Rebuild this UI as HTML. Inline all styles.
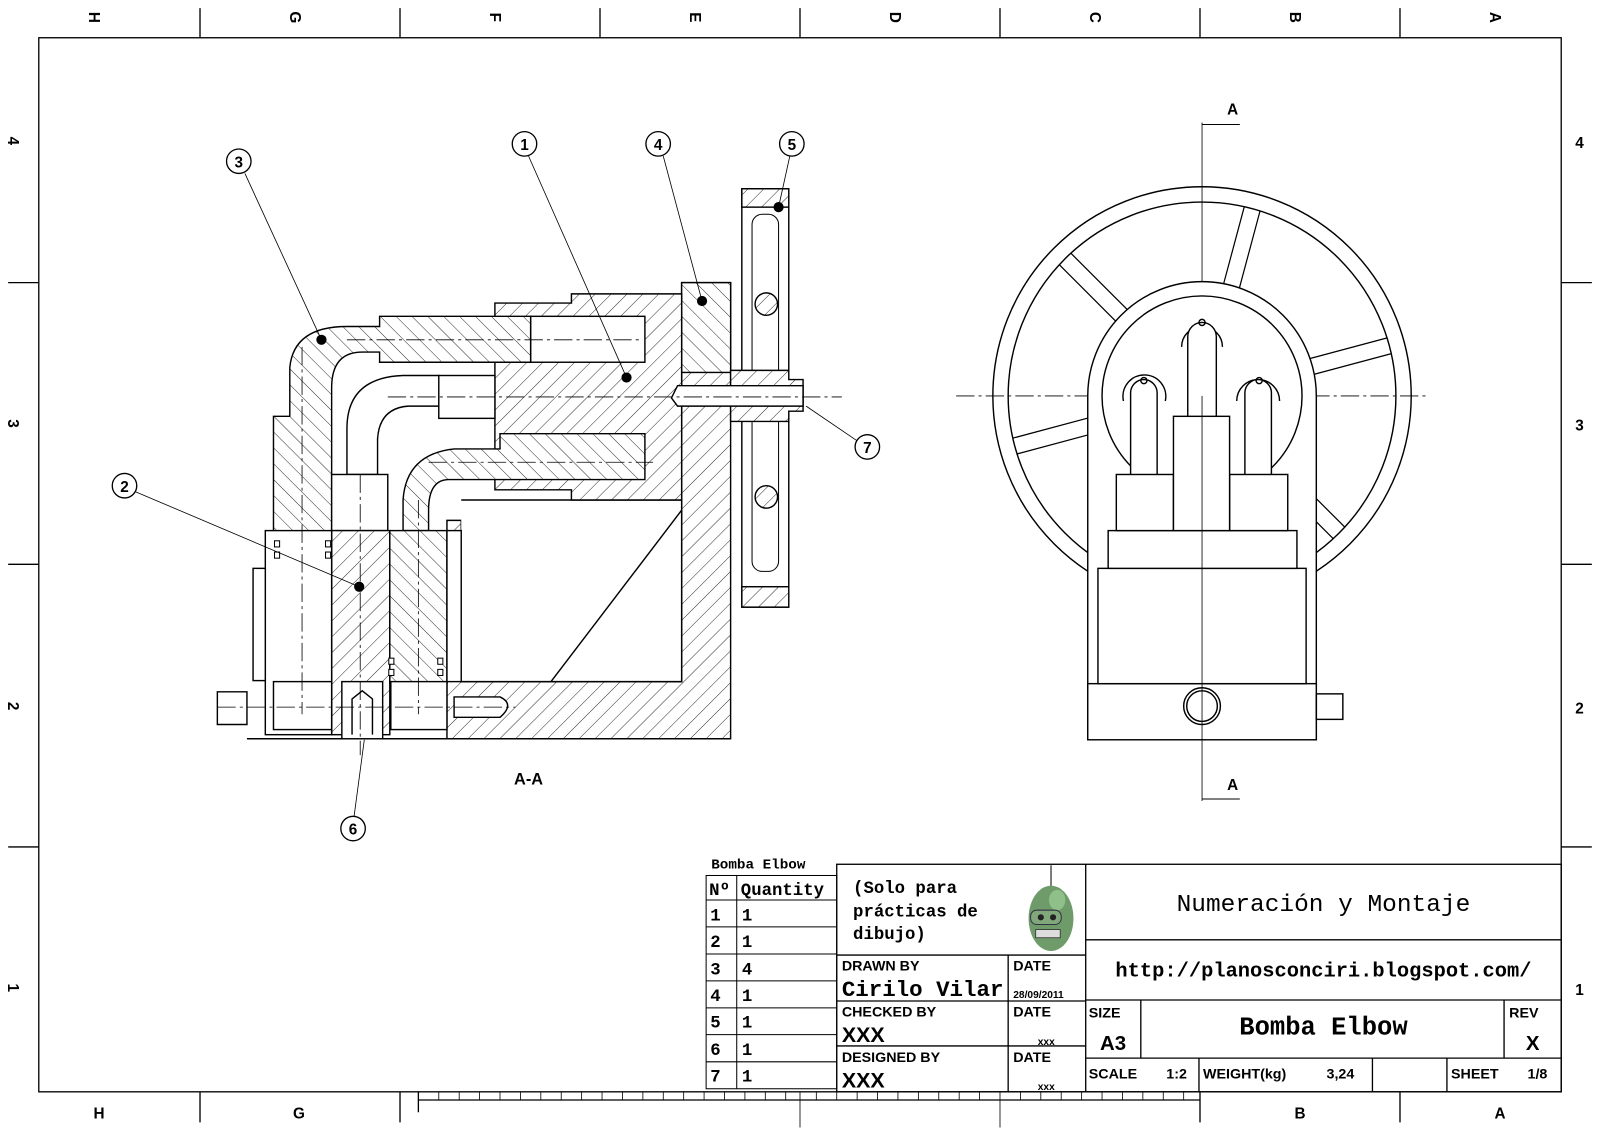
<!DOCTYPE html>
<html><head><meta charset="utf-8"><style>
html,body{margin:0;padding:0;background:#fff}
svg{display:block}
text{font-family:"Liberation Sans",sans-serif;fill:#000}
text.m,.m text{font-family:"Liberation Mono",monospace}
</style></head><body>
<svg width="1600" height="1131" viewBox="0 0 1568 1108.4" xmlns="http://www.w3.org/2000/svg">
<defs>
<pattern id="h" width="11" height="11" patternUnits="userSpaceOnUse" patternTransform="rotate(45)"><rect width="11" height="11" fill="#fff"/><line x1="0" y1="0" x2="0" y2="11" stroke="#000" stroke-width="0.8"/></pattern>
<pattern id="h2" width="11" height="11" patternUnits="userSpaceOnUse" patternTransform="rotate(-45)"><rect width="11" height="11" fill="#fff"/><line x1="0" y1="0" x2="0" y2="11" stroke="#000" stroke-width="0.8"/></pattern>
</defs>
<rect width="1568" height="1109" fill="#fff"/>
<g fill="none" stroke="#000" stroke-width="1.3">
<rect x="38" y="37" width="1492" height="1033"/>
<path d="M196,8V37M392,8V37M588,8V37M784,8V37M980,8V37M1176,8V37M1372,8V37"/>
<path d="M196,1070V1100M392,1070V1100M1176,1070V1100M1372,1070V1100"/>
<path d="M8,277H38M8,553H38M8,830H38M1530,277H1560M1530,553H1560M1530,830H1560"/>
<path d="M410,1078H1176M410,1070V1090" />
<path d="M430,1070V1078M450,1070V1078M470,1070V1078M490,1070V1078M510,1070V1078M530,1070V1078M550,1070V1078M570,1070V1078M590,1070V1078M610,1070V1078M630,1070V1078M650,1070V1078M670,1070V1078M690,1070V1078M710,1070V1078M730,1070V1078M750,1070V1078M770,1070V1078M784,1070V1105M800,1070V1078M820,1070V1078M840,1070V1078M860,1070V1078M880,1070V1078M900,1070V1078M920,1070V1078M940,1070V1078M960,1070V1078M980,1070V1105M1000,1070V1078M1020,1070V1078M1040,1070V1078M1060,1070V1078M1080,1070V1078M1100,1070V1078M1120,1070V1078M1140,1070V1078M1160,1070V1078" stroke-width="0.8"/>
</g>
<g font-size="15" font-weight="bold">
<text transform="translate(92,17) rotate(90)" text-anchor="middle" dy="5">H</text>
<text transform="translate(289,17) rotate(90)" text-anchor="middle" dy="5">G</text>
<text transform="translate(485,17) rotate(90)" text-anchor="middle" dy="5">F</text>
<text transform="translate(681,17) rotate(90)" text-anchor="middle" dy="5">E</text>
<text transform="translate(877,17) rotate(90)" text-anchor="middle" dy="5">D</text>
<text transform="translate(1073,17) rotate(90)" text-anchor="middle" dy="5">C</text>
<text transform="translate(1269,17) rotate(90)" text-anchor="middle" dy="5">B</text>
<text transform="translate(1465,17) rotate(90)" text-anchor="middle" dy="5">A</text>
<text transform="translate(13,138) rotate(90)" text-anchor="middle" dy="5">4</text>
<text transform="translate(13,415) rotate(90)" text-anchor="middle" dy="5">3</text>
<text transform="translate(13,692) rotate(90)" text-anchor="middle" dy="5">2</text>
<text transform="translate(13,968) rotate(90)" text-anchor="middle" dy="5">1</text>
<text x="1548" y="145" text-anchor="middle">4</text>
<text x="1548" y="422" text-anchor="middle">3</text>
<text x="1548" y="699" text-anchor="middle">2</text>
<text x="1548" y="975" text-anchor="middle">1</text>
<text x="97" y="1096" text-anchor="middle">H</text>
<text x="293" y="1096" text-anchor="middle">G</text>
<text x="1274" y="1096" text-anchor="middle">B</text>
<text x="1470" y="1096" text-anchor="middle">A</text>
</g>

<!-- SECTION VIEW -->
<g stroke="#000" stroke-width="1.4">
<path d="M242,724 L716,724 L716,277 L668,277 L668,365 L668,668 L452,668 L452,510 L438,510 L438,724 Z" fill="url(#h)"/>
<path d="M452,668 L668,668 L668,490 L452,490" fill="#fff"/>
<path d="M540,668 L668,500" fill="none"/>
<rect x="668" y="277" width="48" height="88" fill="url(#h2)"/>
<path d="M485,297 L560,297 L560,288 L668,288 L668,490 L560,490 L560,480 L485,480 Z" fill="url(#h)"/>
<rect x="520" y="310" width="112" height="45" fill="#fff"/>
<rect x="430" y="368" width="55" height="42" fill="#fff"/>
<path d="M372,310 L520,310 L520,355 L372,355 L372,345 L355,345 Q325,345 325,380 L325,408 L325,668 L268,668 L268,408 L284,408 L284,360 Q288,320 340,320 L372,320 Z" fill="url(#h2)"/>
<path d="M430,368 L395,368 Q340,370 340,420 L340,465 L370,465 L370,430 Q372,400 400,398 L430,398 Z" fill="#fff"/>
<path d="M490,425 L632,425 L632,470 L490,470 L440,470 Q420,470 420,500 L420,520 L395,520 L395,490 Q398,445 445,440 L490,440 Z" fill="url(#h2)"/>
<rect x="325" y="465" width="55" height="55" fill="#fff"/>
<rect x="325" y="520" width="57" height="200" fill="url(#h)"/>
<rect x="382" y="520" width="56" height="150" fill="url(#h2)"/>
<rect x="260" y="520" width="65" height="200" fill="#fff"/>
<rect x="248" y="557" width="12" height="110" fill="#fff"/>
<rect x="438" y="520" width="14" height="148" fill="#fff"/>
<rect x="268" y="668" width="57" height="47" fill="#fff"/>
<rect x="383" y="668" width="55" height="47" fill="#fff"/>
<rect x="335" y="668" width="40" height="56" fill="#fff"/>
<path d="M345,720 L345,685 L355,677 L365,685 L365,720" fill="none"/>
<path d="M213,678 L242,678 L242,710 L213,710 Z" fill="#fff"/>
<path d="M445,683 L490,683 Q505,690 490,703 L445,703 Z" fill="#fff"/>
<g fill="#fff" stroke-width="1"><rect x="269" y="530" width="5" height="6"/><rect x="269" y="541" width="5" height="6"/><rect x="319" y="530" width="5" height="6"/><rect x="319" y="541" width="5" height="6"/><rect x="381" y="645" width="5" height="6"/><rect x="381" y="656" width="5" height="6"/><rect x="429" y="645" width="5" height="6"/><rect x="429" y="656" width="5" height="6"/></g>
<rect x="727" y="185" width="46" height="410" fill="#fff"/>
<rect x="727" y="185" width="46" height="18" fill="url(#h)"/>
<rect x="727" y="575" width="46" height="20" fill="url(#h)"/>
<rect x="737" y="210" width="26" height="350" rx="10" fill="none" stroke-width="1"/>
<circle cx="751" cy="298" r="11" fill="url(#h)"/>
<circle cx="751" cy="487" r="11" fill="url(#h)"/>
<path d="M716,363 L773,363 L773,372 L787,372 L787,403 L773,403 L773,413 L716,413 Z" fill="url(#h)"/>
<path d="M658,390 L664,378 L787,378 L787,398 L664,398 Z" fill="#fff"/>
</g>
<g stroke="#000" stroke-width="0.8" stroke-dasharray="18,4,3,4" fill="none">
<path d="M340,333 H630"/><path d="M380,389 H825"/><path d="M420,453 H640"/>
<path d="M296,340 V700"/><path d="M353,465 V740"/><path d="M410,490 V700"/><path d="M213,693 H505"/>
<path d="M937,388 H1400"/><path d="M1178,120 V785" stroke-dasharray="none"/>
</g>

<!-- RIGHT VIEW -->
<g stroke="#000" stroke-width="1.4" fill="none">
<circle cx="1178" cy="388" r="205"/>
<circle cx="1178" cy="388" r="190"/>
<g stroke-width="1.2">
<g transform="rotate(-75 1178 388)"><path d="M1286,380 H1368 M1286,396 H1368"/></g>
<g transform="rotate(-135 1178 388)"><path d="M1286,380 H1368 M1286,396 H1368"/></g>
<g transform="rotate(-195 1178 388)"><path d="M1286,380 H1368 M1286,396 H1368"/></g>
<g transform="rotate(-15 1178 388)"><path d="M1286,380 H1368 M1286,396 H1368"/></g>
<g transform="rotate(45 1178 388)"><path d="M1286,380 H1368 M1286,396 H1368"/></g>
</g>
<path d="M1066,725 V388 A112,112 0 0 1 1290,388 V725 Z" fill="#fff"/>
<circle cx="1178" cy="388" r="98"/>
<rect x="1066" y="670" width="224" height="55" fill="#fff"/>
<rect x="1076" y="557" width="204" height="113" fill="#fff"/>
<rect x="1086" y="520" width="185" height="37" fill="#fff"/>
<path d="M1158,340 A20,20 0 1 1 1198,340" />
<path d="M1101,393 A21,21 0 1 1 1142,393"/>
<path d="M1212,393 A21,21 0 1 1 1254,393"/>
<path d="M1164,465 V330 A14,14 0 0 1 1192,330 V465" fill="#fff"/>
<path d="M1108,465 V385 A13,13 0 0 1 1134,385 V465" fill="#fff"/>
<path d="M1220,465 V385 A13,13 0 0 1 1246,385 V465" fill="#fff"/>
<rect x="1094" y="465" width="56" height="55" fill="#fff"/>
<rect x="1205" y="465" width="57" height="55" fill="#fff"/>
<rect x="1150" y="408" width="55" height="112" fill="#fff"/>
<circle cx="1178" cy="316" r="3"/><circle cx="1121" cy="373" r="3"/><circle cx="1234" cy="373" r="3"/>
<circle cx="1178" cy="692" r="18"/><circle cx="1178" cy="692" r="15"/>
<rect x="1290" y="680" width="26" height="25"/>
<path d="M1178,388 V725" stroke-width="0.8"/>
<path d="M1178,122 H1215 M1178,783 H1215" stroke-width="1"/>
</g>
<text x="1208" y="112" font-size="15" font-weight="bold" text-anchor="middle">A</text>
<text x="1208" y="774" font-size="15" font-weight="bold" text-anchor="middle">A</text>
<text x="518" y="769" font-size="16" font-weight="bold" text-anchor="middle">A-A</text>

<g stroke="#000" stroke-width="0.8" fill="none">
<path d="M240,170 L315,333 M518,153 L614,370 M650,153 L688,295 M774,153 L763,203 M840,432 L790,398 M133,482 L352,575 M347,800 L357,725"/>
</g>
<g fill="#000"><circle cx="315" cy="333" r="5"/><circle cx="614" cy="370" r="5"/><circle cx="688" cy="295" r="5"/><circle cx="763" cy="203" r="5"/><circle cx="352" cy="575" r="5"/></g>
<g stroke="#000" stroke-width="1.3" fill="#fff">
<circle cx="234" cy="158" r="12"/><circle cx="514" cy="141" r="12"/><circle cx="645" cy="141" r="12"/><circle cx="776" cy="141" r="12"/><circle cx="850" cy="438" r="12"/><circle cx="122" cy="476" r="12"/><circle cx="346" cy="812" r="12"/>
</g>
<g font-size="15" font-weight="bold" text-anchor="middle">
<text x="234" y="164">3</text><text x="514" y="147">1</text><text x="645" y="147">4</text><text x="776" y="147">5</text><text x="850" y="444">7</text><text x="122" y="482">2</text><text x="346" y="818">6</text>
</g>

<!-- PARTS LIST -->
<text x="697" y="851" font-size="14" font-weight="bold" class="m">Bomba Elbow</text>
<g stroke="#000" stroke-width="1" fill="none">
<rect x="692" y="858" width="128" height="209"/>
<path d="M722,858 V1067 M692,882 H820 M692,908.4 H820 M692,934.9 H820 M692,961.3 H820 M692,987.7 H820 M692,1014 H820 M692,1040.6 H820"/>
</g>
<g font-size="17" class="m" font-weight="bold">
<text x="695" y="877">Nº</text><text x="726" y="877">Quantity</text>
<text x="696" y="902">1</text><text x="727" y="902">1</text>
<text x="696" y="928">2</text><text x="727" y="928">1</text>
<text x="696" y="955">3</text><text x="727" y="955">4</text>
<text x="696" y="981">4</text><text x="727" y="981">1</text>
<text x="696" y="1007">5</text><text x="727" y="1007">1</text>
<text x="696" y="1034">6</text><text x="727" y="1034">1</text>
<text x="696" y="1060">7</text><text x="727" y="1060">1</text>
</g>

<!-- TITLE BLOCK -->
<g stroke="#000" stroke-width="1.3" fill="none">
<rect x="820" y="847" width="710" height="223"/>
<path d="M1064,847 V1070 M820,936 H1064 M820,981 H1064 M820,1025 H1064 M988,936 V1070 M1064,921 H1530 M1064,980 H1530 M1064,1037 H1530 M1118,980 V1037 M1474,980 V1037 M1175,1037 V1070 M1345,1037 V1070 M1418,1037 V1070"/>
</g>
<g class="m" font-size="17" font-weight="bold">
<text x="836" y="875">(Solo para</text><text x="836" y="898">prácticas de</text><text x="836" y="920">dibujo)</text>
</g>
<g>
<line x1="1030" y1="848" x2="1030" y2="870" stroke="#555" stroke-width="1.5"/>
<ellipse cx="1030" cy="900" rx="22" ry="32" fill="#6f9a6a"/>
<ellipse cx="1036" cy="882" rx="8" ry="10" fill="#8fc08a"/>
<rect x="1010" y="892" width="30" height="14" rx="6" fill="#80a87a" stroke="#334" stroke-width="1"/>
<circle cx="1020" cy="899" r="3" fill="#222"/><circle cx="1032" cy="899" r="3" fill="#222"/>
<rect x="1015" y="911" width="24" height="8" fill="#ddd" stroke="#333" stroke-width="0.8"/>
</g>
<g font-size="14" font-weight="bold">
<text x="825" y="951">DRAWN BY</text><text x="993" y="951">DATE</text>
<text x="825" y="996">CHECKED BY</text><text x="993" y="996">DATE</text>
<text x="825" y="1041">DESIGNED BY</text><text x="993" y="1041">DATE</text>
<text x="993" y="978" font-size="10">28/09/2011</text>
<text x="1017" y="1024" font-size="10">xxx</text><text x="1017" y="1068" font-size="10">xxx</text>
<text x="1067" y="997">SIZE</text><text x="1479" y="997">REV</text>
<text x="1067" y="1057">SCALE</text><text x="1143" y="1057">1:2</text>
<text x="1179" y="1057">WEIGHT(kg)</text><text x="1300" y="1057">3,24</text>
<text x="1422" y="1057">SHEET</text><text x="1497" y="1057">1/8</text>
</g>
<text x="825" y="976" font-size="22" class="m" font-weight="bold">Cirilo Vilar</text>
<text x="825" y="1021" font-size="21" font-weight="bold">XXX</text>
<text x="825" y="1066" font-size="21" font-weight="bold">XXX</text>
<text x="1078" y="1029" font-size="20" font-weight="bold">A3</text>
<text x="1502" y="1029" font-size="20" font-weight="bold" text-anchor="middle">X</text>
<text x="1297" y="893" font-size="24" class="m" text-anchor="middle">Numeración y Montaje</text>
<text x="1297" y="957" font-size="20" class="m" font-weight="bold" text-anchor="middle">http://planosconciri.blogspot.com/</text>
<text x="1297" y="1014" font-size="25" class="m" font-weight="bold" text-anchor="middle">Bomba Elbow</text>
</svg>
</body></html>
